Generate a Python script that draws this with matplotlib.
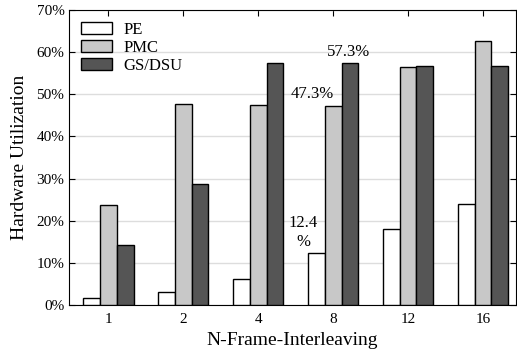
import numpy as np
import matplotlib.pyplot as plt
from matplotlib.ticker import PercentFormatter

plt.rcParams['font.family'] = ['Liberation Serif', 'DejaVu Serif']

# data
frames = ['1', '2', '4', '8', '12', '16']
pe = [1.7, 3.1, 6.2, 12.4, 18.0, 24.0]
pmc = [23.7, 47.6, 47.5, 47.3, 56.5, 62.6]
gs_dsu = [14.3, 28.7, 57.4, 57.3, 56.8, 56.7]

x = np.arange(len(frames))
w = 0.225

fig = plt.figure(figsize=(5.17, 3.54), dpi=100)
ax = fig.add_axes([0.134, 0.138, 0.864, 0.834])

ax.bar(x - w, pe, w, color='white', edgecolor='black', linewidth=1, label='PE', zorder=3)
ax.bar(x, pmc, w, color='#c8c8c8', edgecolor='black', linewidth=1, label='PMC', zorder=3)
ax.bar(x + w, gs_dsu, w, color='#555555', edgecolor='black', linewidth=1, label='GS/DSU', zorder=3)

ax.set_xlim(-0.52, 5.44)
ax.set_ylim(0, 70)
ax.set_yticks(range(0, 71, 10))
ax.yaxis.set_major_formatter(PercentFormatter(decimals=0))
ax.set_xticks(x)
ax.set_xticklabels(frames)
ax.tick_params(direction='in', top=True, right=True, labelsize=11, length=4)
ax.tick_params(axis='x', pad=6)
ax.grid(axis='y', color='#dddddd', linewidth=1, zorder=0)

ax.set_xlabel('N-Frame-Interleaving', fontsize=14)
ax.set_ylabel('Hardware Utilization', fontsize=14, labelpad=6)

ax.text(3 + 0.2, 59.0, '57.3%', fontsize=12, ha='center')
ax.text(3 - 0.28, 49.0, '47.3%', fontsize=12, ha='center')
ax.text(3 - 0.4, 14.0, '12.4\n%', fontsize=12, ha='center', linespacing=1.25)

ax.legend(loc='upper left', fontsize=12, frameon=False, handlelength=1.85,
          handleheight=0.75, labelspacing=0.12, borderaxespad=0.3, handletextpad=0.7)

plt.savefig('out.png', dpi=100)
